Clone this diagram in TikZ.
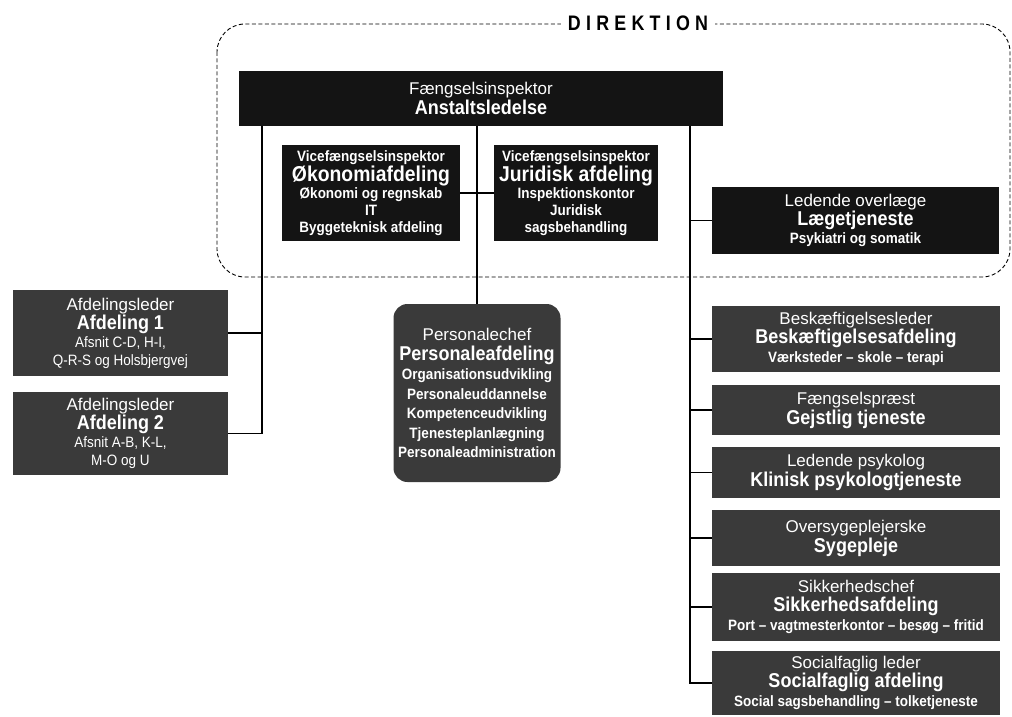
\documentclass[tikz,border=0pt]{standalone}
\usepackage{fontspec}
\setmainfont{Liberation Sans}
\newfontfamily\orgcnd[FakeStretch=0.9]{Liberation Sans}
\newfontfamily\orgttl[FakeStretch=0.85,LetterSpace=25]{Liberation Sans}
\definecolor{boxA}{HTML}{141414}
\definecolor{boxB}{HTML}{3A3A3A}
\newcommand\orgrole[1]{{\fontsize{17}{19}\selectfont #1}}
\newcommand\orghead[1]{{\orgcnd\bfseries\fontsize{20}{22}\selectfont #1}}
\newcommand\orgheadb[1]{{\orgcnd\bfseries\fontsize{21.5}{22}\selectfont #1}}
\newcommand\orgsub[1]{{\orgcnd\bfseries\fontsize{15}{17}\selectfont #1}}
\newcommand\orgsubr[1]{{\orgcnd\fontsize{15}{17}\selectfont #1}}
\tikzset{
  orgbox/.style={fill=#1, text=white, align=center, inner sep=0pt},
  dark/.style={orgbox=boxA},
  grey/.style={orgbox=boxB},
  link/.style={line width=1.2pt, draw=black},
  frame/.style={line width=0.9pt, dash pattern=on 4pt off 2.5pt, rounded corners=28pt},
}
\begin{document}
\begin{tikzpicture}[x=1pt,y=-1pt]
\useasboundingbox (0,0) rectangle (1012,717);
% frame
\draw[frame] (217,24) rectangle (1010,277);
\node[fill=white, inner xsep=7pt, inner ysep=2pt, font=\orgttl\bfseries\fontsize{21}{21}\selectfont] (dir) at (638,23) {DIREKTION};

% top boxes
\node[dark, minimum width=484pt, minimum height=55pt, font=\fontsize{15}{20}\selectfont] (anst) at (481,98.5)
  {\orgrole{Fængselsinspektor}\\\orghead{Anstaltsledelse}};
\node[dark, minimum width=178pt, minimum height=96pt, font=\fontsize{15}{17}\selectfont] (oko) at (371,193)
  {\orgsub{Vicefængselsinspektor}\\\orgheadb{Økonomiafdeling}\\\orgsub{Økonomi og regnskab}\\\orgsub{IT}\\\orgsub{Byggeteknisk afdeling}};
\node[dark, minimum width=164pt, minimum height=96pt, font=\fontsize{15}{17}\selectfont] (jur) at (576,193)
  {\orgsub{Vicefængselsinspektor}\\\orgheadb{Juridisk afdeling}\\\orgsub{Inspektionskontor}\\\orgsub{Juridisk}\\\orgsub{sagsbehandling}};
\node[dark, minimum width=287pt, minimum height=67pt, font=\fontsize{15}{18}\selectfont] (laege) at (855.5,220.5)
  {\orgrole{Ledende overlæge}\\\orghead{Lægetjeneste}\\\orgsub{Psykiatri og somatik}};

% left boxes
\node[grey, minimum width=215pt, minimum height=86pt, font=\fontsize{15}{18}\selectfont] (afd1) at (120.5,333)
  {\orgrole{Afdelingsleder}\\\orghead{Afdeling 1}\\\orgsubr{Afsnit C-D, H-I,}\\\orgsubr{Q-R-S og Holsbjergvej}};
\node[grey, minimum width=215pt, minimum height=83pt, font=\fontsize{15}{18}\selectfont] (afd2) at (120.5,433.5)
  {\orgrole{Afdelingsleder}\\\orghead{Afdeling 2}\\\orgsubr{Afsnit A-B, K-L,}\\\orgsubr{M-O og U}};

% personale
\node[grey, rounded corners=14pt, minimum width=167pt, minimum height=178pt, font=\fontsize{15}{19.5}\selectfont] (pers) at (477,393)
  {\orgrole{Personalechef}\\\orghead{Personaleafdeling}\\\orgsub{Organisationsudvikling}\\\orgsub{Personaleuddannelse}\\\orgsub{Kompetenceudvikling}\\\orgsub{Tjenesteplanlægning}\\\orgsub{Personaleadministration}};

% right column
\node[grey, minimum width=288pt, minimum height=66pt, font=\fontsize{15}{19}\selectfont] (besk) at (856,339)
  {\orgrole{Beskæftigelsesleder}\\\orghead{Beskæftigelsesafdeling}\\\orgsub{Værksteder – skole – terapi}};
\node[grey, minimum width=288pt, minimum height=50pt, font=\fontsize{15}{20}\selectfont] (gejst) at (856,410)
  {\orgrole{Fængselspræst}\\\orghead{Gejstlig tjeneste}};
\node[grey, minimum width=288pt, minimum height=51pt, font=\fontsize{15}{20}\selectfont] (klin) at (856,472.5)
  {\orgrole{Ledende psykolog}\\\orghead{Klinisk psykologtjeneste}};
\node[grey, minimum width=288pt, minimum height=56pt, font=\fontsize{15}{20}\selectfont] (syge) at (856,538)
  {\orgrole{Oversygeplejerske}\\\orghead{Sygepleje}};
\node[grey, minimum width=288pt, minimum height=68pt, font=\fontsize{15}{19}\selectfont] (sikk) at (856,607)
  {\orgrole{Sikkerhedschef}\\\orghead{Sikkerhedsafdeling}\\\orgsub{Port – vagtmesterkontor – besøg – fritid}};
\node[grey, minimum width=288pt, minimum height=64pt, font=\fontsize{15}{19}\selectfont] (soc) at (856,683)
  {\orgrole{Socialfaglig leder}\\\orghead{Socialfaglig afdeling}\\\orgsub{Social sagsbehandling – tolketjeneste}};

% connectors
\coordinate (lbus) at (262,0);
\coordinate (rbus) at (690,0);
\draw[link] (anst.south -| lbus) |- (afd2.east);
\draw[link] (afd1.east) -- (afd1.east -| lbus);
\draw[link] (anst.south -| pers.north) -- (pers.north);
\draw[link] (oko.east) -- (jur.west);
\draw[link] (anst.south -| rbus) |- (soc.west);
\foreach \n in {laege,besk,gejst,klin,syge,sikk}
  \draw[link] (\n.west -| rbus) -- (\n.west);
\end{tikzpicture}
\end{document}
